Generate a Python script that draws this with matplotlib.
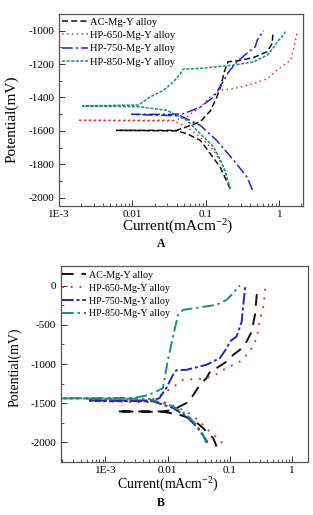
import matplotlib
matplotlib.use("Agg")
import matplotlib.pyplot as plt
from matplotlib.ticker import FixedLocator, MultipleLocator, LogLocator, NullFormatter

plt.rcParams['font.family'] = ['Liberation Serif', 'DejaVu Serif']
plt.rcParams['mathtext.fontset'] = 'custom'
plt.rcParams['mathtext.rm'] = 'Liberation Serif'
plt.rcParams['mathtext.it'] = 'Liberation Serif:italic'
plt.rcParams['axes.unicode_minus'] = False

labels = ["AC-Mg-Y alloy", "HP-650-Mg-Y alloy", "HP-750-Mg-Y alloy", "HP-850-Mg-Y alloy"]
colors = ["#111111", "#e8312a", "#2323c8", "#1a8c7a"]

# ---------------- Panel A data (current mA/cm2, potential mV) ----------------
a_ac_x = [0.215, 0.157, 0.115, 0.084, 0.055, 0.040, 0.0061, 0.040, 0.055, 0.084, 0.115, 0.14, 0.16, 0.18, 0.2, 0.279, 0.45, 0.68, 0.80, 0.82]
a_ac_y = [-1948, -1818, -1737, -1657, -1617, -1600, -1597, -1597, -1575, -1545, -1480, -1400, -1330, -1240, -1186, -1180, -1160, -1126, -1076, -1006]

a_650_x = [0.215, 0.175, 0.128, 0.084, 0.055, 0.036, 0.0018, 0.036, 0.055, 0.084, 0.115, 0.157, 0.24, 0.45, 0.685, 0.93, 1.15, 1.43, 1.59, 1.76]
a_650_y = [-1948, -1818, -1717, -1637, -1577, -1540, -1537, -1537, -1517, -1457, -1397, -1357, -1347, -1317, -1287, -1236, -1206, -1176, -1096, -1006]

a_750_x = [0.43, 0.365, 0.24, 0.14, 0.084, 0.045, 0.0098, 0.035, 0.050, 0.084, 0.127, 0.166, 0.204, 0.265, 0.36, 0.47, 0.50, 0.61]
a_750_y = [-1954, -1878, -1777, -1657, -1567, -1510, -1501, -1501, -1497, -1457, -1397, -1316, -1247, -1186, -1136, -1096, -1056, -1000]

a_850_x = [0.215, 0.175, 0.128, 0.084, 0.055, 0.0295, 0.012, 0.0021, 0.012, 0.0174, 0.0265, 0.036, 0.045, 0.049, 0.084, 0.14, 0.24, 0.45, 0.685, 0.85, 0.98, 1.09, 1.21]
a_850_y = [-1948, -1818, -1697, -1617, -1537, -1477, -1455, -1451, -1445, -1397, -1357, -1307, -1257, -1230, -1226, -1216, -1206, -1186, -1146, -1096, -1056, -1036, -1006]

# ---------------- Panel B data ----------------
b_ac_x = [0.061, 0.054, 0.037, 0.026, 0.0156, 0.0084, 0.0015, 0.0084, 0.0122, 0.020, 0.026, 0.033, 0.042, 0.050, 0.061, 0.089, 0.113, 0.145, 0.186, 0.224, 0.253, 0.27, 0.29, 0.30]
b_ac_y = [-2051, -1945, -1817, -1711, -1647, -1610, -1605, -1605, -1584, -1499, -1393, -1265, -1180, -1074, -1053, -968, -883, -819, -713, -586, -374, -119, -34, -50]

b_650_x = [0.075, 0.069, 0.047, 0.033, 0.020, 0.009, 0.0009, 0.0045, 0.0066, 0.0095, 0.0138, 0.0177, 0.033, 0.054, 0.078, 0.145, 0.21, 0.27, 0.30, 0.35, 0.37, 0.37]
b_650_y = [-2008, -1966, -1860, -1732, -1605, -1490, -1478, -1476, -1435, -1350, -1265, -1202, -1189, -1159, -1074, -968, -841, -671, -459, -246, -34, 0]

b_750_x = [0.044, 0.038, 0.029, 0.020, 0.0122, 0.0058, 0.00052, 0.0058, 0.0074, 0.0095, 0.0122, 0.0138, 0.020, 0.042, 0.069, 0.089, 0.10, 0.128, 0.155, 0.164, 0.176, 0.178]
b_750_y = [-2000, -1923, -1796, -1669, -1562, -1475, -1465, -1465, -1435, -1308, -1138, -1080, -1074, -1010, -926, -798, -713, -650, -459, -246, -34, 0]

b_850_x = [0.042, 0.037, 0.029, 0.020, 0.0122, 0.005, 0.00019, 0.0028, 0.0051, 0.0084, 0.0101, 0.0122, 0.0147, 0.0177, 0.061, 0.0885, 0.113, 0.136, 0.145]
b_850_y = [-2008, -1902, -1775, -1647, -1541, -1445, -1438, -1435, -1393, -1308, -947, -650, -373, -310, -246, -182, -97, -13, 0]

fig = plt.figure(figsize=(3.13, 5.15), dpi=100)
W, H = 313.0, 515.0

def ax_at(l, t, r, b):
    return fig.add_axes([l / W, 1 - b / H, (r - l) / W, (b - t) / H])

axA = ax_at(59, 14, 303, 206)
axB = ax_at(60.5, 266, 308, 462)

styleA = [(0, (4, 2)), (0, (1, 2.2)), (0, (7, 2, 1.5, 2)), (0, (2, 1))]
styleB = [(0, (6, 4)), (0, (1, 3.5)), (0, (6, 1.5, 1.5, 1.5)), (0, (6, 2, 1.2, 2))]

dataA = [(a_ac_x, a_ac_y), (a_650_x, a_650_y), (a_750_x, a_750_y), (a_850_x, a_850_y)]
dataB = [(b_ac_x, b_ac_y), (b_650_x, b_650_y), (b_750_x, b_750_y), (b_850_x, b_850_y)]

for (x, y), c, ls, lab in zip(dataA, colors, styleA, labels):
    axA.plot(x, y, color=c, linestyle=ls, lw=1.1, label=lab)
for (x, y), c, ls, lab in zip(dataB, colors, styleB, labels):
    axB.plot(x, y, color=c, linestyle=ls, lw=1.4, label=lab)

def style(ax, xlim, ylim, yticks, yminor, fs):
    ax.set_xscale('log')
    ax.set_xlim(*xlim)
    ax.set_ylim(*ylim)
    ax.xaxis.set_major_locator(FixedLocator([1e-3, 1e-2, 1e-1, 1]))
    ax.set_xticklabels(["1E-3", "0.01", "0.1", "1"])
    ax.xaxis.set_minor_locator(LogLocator(base=10, subs=range(2, 10), numticks=20))
    ax.xaxis.set_minor_formatter(NullFormatter())
    ax.yaxis.set_major_locator(FixedLocator(yticks))
    ax.yaxis.set_minor_locator(MultipleLocator(yminor))
    ax.tick_params(which='both', direction='in', top=False, right=False, labelsize=fs, color='#333333', pad=3)
    ax.tick_params(which='major', length=4, width=0.7)
    ax.tick_params(which='minor', length=2, width=0.6)
    for s in ax.spines.values():
        s.set_color('#555555')
        s.set_linewidth(0.9)

style(axA, (1e-3, 2.1), (-2050, -900), list(range(-2000, -999, 200)), 100, 8)
style(axB, (1.9e-4, 1.8), (-2250, 250), list(range(-2000, 1, 500)), 250, 8)

axA.legend(loc='upper left', bbox_to_anchor=(0.0, 1.0), frameon=False, fontsize=7.6,
           handlelength=2.4, handletextpad=0.25, labelspacing=0.38, borderaxespad=0.2, borderpad=0.1)
axB.legend(loc='upper left', bbox_to_anchor=(-0.005, 0.99), frameon=False, fontsize=7.2,
           handlelength=2.4, handletextpad=0.25, labelspacing=0.38, borderaxespad=0.2, borderpad=0.1)

fig.text(12 / W, 1 - 119 / H, "Potential(mV)", rotation=90, ha='center', va='center', fontsize=11)
fig.text(178 / W, 1 - 227 / H, "Current(mAcm$^{-2}$)", ha='center', va='center', fontsize=11)
fig.text(161 / W, 1 - 244 / H, "A", ha='center', va='center', fontsize=8.5, fontweight='bold')

fig.text(15 / W, 1 - 367 / H, "Potential(mV)", rotation=90, ha='center', va='center', fontsize=10)
fig.text(168 / W, 1 - 485 / H, "Current(mAcm$^{-2}$)", ha='center', va='center', fontsize=10)
fig.text(161 / W, 1 - 503 / H, "B", ha='center', va='center', fontsize=8.5, fontweight='bold')

fig.savefig("out.png", dpi=100)
